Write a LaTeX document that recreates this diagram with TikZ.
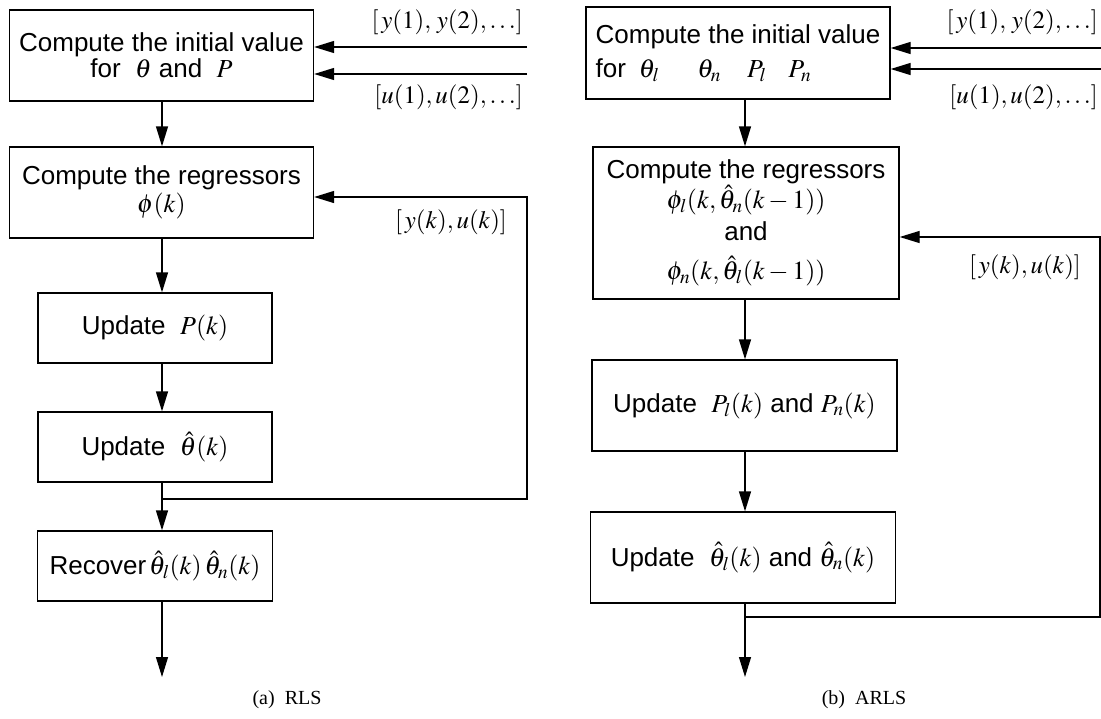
\documentclass[tikz,border=0pt]{standalone}
\usepackage{mathptmx}
\usepackage[no-math]{fontspec}
\setmainfont{Liberation Serif}
\setsansfont{Liberation Sans}
\usetikzlibrary{arrows.meta}

\tikzset{
  box/.style={draw, line width=1.3pt, inner sep=0pt, align=center,
    font=\sffamily\fontsize{26}{26}\selectfont},
  wire/.style={line width=1.3pt},
  flow/.style={wire, -{Triangle[length=20pt,width=12pt]}},
  sig/.style={font=\fontsize{25}{27}\selectfont, inner sep=0pt},
  figcaption/.style={font=\rmfamily\fontsize{20}{22}\selectfont, inner sep=0pt}
}

\begin{document}
\begin{tikzpicture}[x=1pt,y=-1pt]
\useasboundingbox (0,0) rectangle (1101,718);

% ---------------- (a) RLS ----------------
\node[box, minimum width=304pt, minimum height=91pt] (B1) at (161.5,55.5)
  {Compute the initial value\\for \ $\theta$ and \ $P$};
\node[box, minimum width=304pt, minimum height=91pt] (B2) at (161.5,192.5)
  {Compute the regressors\\[2pt]$\phi(k)$};
\node[box, minimum width=234pt, minimum height=70pt] (B3) at (155,328)
  {Update \ $P(k)$};
\node[box, minimum width=234pt, minimum height=70pt] (B4) at (155,447)
  {Update \ $\hat{\theta}(k)$};
\node[box, minimum width=235pt, minimum height=70pt] (B5) at (155,566)
  {Recover$\,\hat{\theta}_l(k)\,\hat{\theta}_n(k)$};

\coordinate (ia1) at (527,47);
\coordinate (ia2) at (527,74);
\coordinate (ja) at (162,499);
\coordinate (ra) at (527,499);
\coordinate (fa) at (527,197);
\coordinate (ea) at (162,677);

\node[sig, anchor=east] (ly1) at (523,22) {$[\,y(1),\,y(2),\ldots]$};
\node[sig, anchor=east] (lu1) at (523,97) {$[u(1),u(2),\ldots]$};
\node[sig] (lyk) at (451,222) {$[\,y(k),u(k)]$};

\draw[flow] (ia1) -- (ia1 -| B1.east);
\draw[flow] (ia2) -- (ia2 -| B1.east);
\draw[flow] (ja |- B1.south) -- (ja |- B2.north);
\draw[flow] (ja |- B2.south) -- (ja |- B3.north);
\draw[flow] (ja |- B3.south) -- (ja |- B4.north);
\draw[flow] (ja |- B4.south) -- (ja |- B5.north);
\draw[flow] (ja |- B5.south) -- (ea);
\draw[flow] (ja) -- (ra) -- (fa) -- (fa -| B2.east);

\node[figcaption] (capa) at (287,700) {(a)~~RLS};

% ---------------- (b) ARLS ----------------
\node[box, minimum width=304pt, minimum height=92pt, align=left] (C1) at (738,53)
  {Compute the initial value\\[8pt]for\hspace{13pt}$\theta_l$\hspace{38pt}$\theta_n$\hspace{26pt}$P_l$\hspace{22pt}$P_n$};
\node[box, minimum width=306pt, minimum height=152pt] (C2) at (746,223)
  {Compute the regressors\\[0pt]$\phi_l(k,\hat{\theta}_n(k-1))$\\[6pt]and\\[13pt]$\phi_n(k,\hat{\theta}_l(k-1))$};
\node[box, minimum width=305pt, minimum height=91pt] (C3) at (744.5,405.5)
  {Update \ $P_l(k)$ and $P_n(k)$};
\node[box, minimum width=305pt, minimum height=91pt] (C4) at (743,557.5)
  {Update \ $\hat{\theta}_l(k)$ and $\hat{\theta}_n(k)$};

\coordinate (ib1) at (1101,48);
\coordinate (ib2) at (1101,69);
\coordinate (jb) at (745,617);
\coordinate (rb) at (1100,617);
\coordinate (fb) at (1100,237);
\coordinate (eb) at (745,677);

\node[sig, anchor=east] (ry1) at (1098,22) {$[\,y(1),\,y(2),\ldots]$};
\node[sig, anchor=east] (ru1) at (1098,97) {$[u(1),u(2),\ldots]$};
\node[sig] (ryk) at (1025,267) {$[\,y(k),u(k)]$};

\draw[flow] (ib1) -- (ib1 -| C1.east);
\draw[flow] (ib2) -- (ib2 -| C1.east);
\draw[flow] (jb |- C1.south) -- (jb |- C2.north);
\draw[flow] (jb |- C2.south) -- (jb |- C3.north);
\draw[flow] (jb |- C3.south) -- (jb |- C4.north);
\draw[flow] (jb |- C4.south) -- (eb);
\draw[flow] (jb) -- (rb) -- (fb) -- (fb -| C2.east);

\node[figcaption] (capb) at (864,700) {(b)~~ARLS};
\end{tikzpicture}
\end{document}
